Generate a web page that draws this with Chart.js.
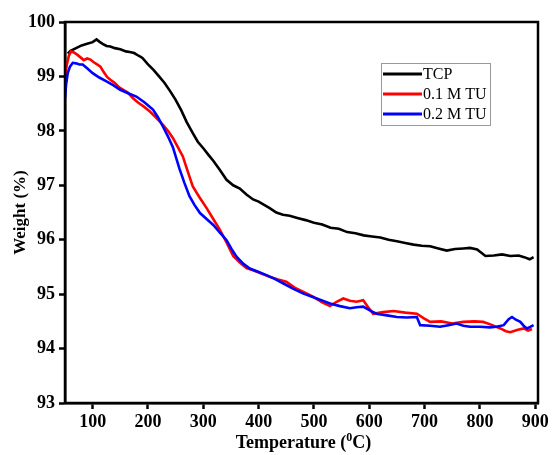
<!DOCTYPE html>
<html>
<head>
<meta charset="utf-8">
<script src="https://cdn.jsdelivr.net/npm/chart.js@4/dist/chart.umd.min.js"></script>
<style>
  html, body { margin: 0; padding: 0; background: #fff; }
  #wrap { width: 554px; height: 455px; }
</style>
</head>
<body>
<div id="wrap"><canvas id="myChart" width="554" height="455"></canvas></div>
<script>
'use strict';

// Values
const tcpTemp = [55, 60, 70, 80, 90, 100, 107, 112, 118, 125, 132, 140, 150, 160, 167, 175, 183, 190, 200, 210,
    220, 230, 240, 250, 260, 270, 281, 290, 300, 310, 318, 330, 342, 354, 366, 378, 390, 400, 410, 420,
    432, 444, 456, 470, 485, 500, 515, 530, 545, 560, 575, 590, 605, 620, 635, 650, 665, 680, 695, 710,
    725, 740, 755, 770, 782, 795, 810, 825, 840, 855, 870, 880, 890, 897];
const tcpWeight = [99.42, 99.47, 99.52, 99.57, 99.60, 99.63, 99.68, 99.64, 99.60, 99.56, 99.55, 99.52, 99.50, 99.46, 99.45, 99.43, 99.38, 99.34, 99.22, 99.12,
    99.00, 98.88, 98.73, 98.57, 98.38, 98.16, 97.96, 97.80, 97.68, 97.55, 97.45, 97.28, 97.10, 97.00, 96.94, 96.83, 96.74, 96.70, 96.64, 96.58,
    96.50, 96.46, 96.44, 96.40, 96.36, 96.31, 96.28, 96.22, 96.20, 96.14, 96.12, 96.08, 96.06, 96.04, 96.00, 95.97, 95.94, 95.91, 95.89, 95.88,
    95.84, 95.80, 95.83, 95.84, 95.85, 95.82, 95.70, 95.71, 95.73, 95.70, 95.71, 95.68, 95.64, 95.68];

const tu01Temp = [50, 53, 57, 61, 66, 72, 78, 84, 90, 96, 102, 108, 114, 120, 126, 132, 140, 148, 156, 164,
    173, 182, 192, 203, 215, 227, 236, 245, 254, 263, 272, 281, 293, 306, 318, 330, 342, 354, 366, 378,
    390, 405, 420, 435, 450, 465, 481, 499, 515, 529, 541, 553, 565, 577, 589, 598, 607, 625, 644, 665,
    686, 698, 710, 730, 750, 770, 790, 806, 820, 837, 847, 855, 867, 879, 887, 894];
const tu01Weight = [98.95, 99.20, 99.38, 99.46, 99.44, 99.40, 99.35, 99.30, 99.33, 99.31, 99.26, 99.22, 99.18, 99.08, 98.99, 98.94, 98.88, 98.80, 98.75, 98.70,
    98.60, 98.52, 98.45, 98.36, 98.24, 98.11, 98.00, 97.87, 97.70, 97.53, 97.25, 96.98, 96.78, 96.58, 96.38, 96.18, 95.95, 95.70, 95.58, 95.48,
    95.44, 95.38, 95.32, 95.27, 95.23, 95.12, 95.04, 94.95, 94.85, 94.78, 94.86, 94.92, 94.88, 94.86, 94.89, 94.76, 94.64, 94.67, 94.69, 94.66,
    94.64, 94.56, 94.49, 94.50, 94.46, 94.49, 94.50, 94.49, 94.44, 94.37, 94.32, 94.30, 94.34, 94.37, 94.33, 94.36];

const tu02Temp = [50, 52, 55, 59, 64, 70, 76, 82, 90, 100, 112, 125, 137, 149, 164, 179, 194, 209, 218, 227,
    236, 245, 257, 266, 275, 284, 294, 306, 318, 330, 342, 351, 360, 372, 384, 399, 414, 429, 444, 462,
    481, 505, 529, 547, 565, 577, 589, 601, 613, 632, 650, 668, 686, 692, 710, 728, 743, 758, 770, 782,
    800, 818, 830, 843, 852, 858, 865, 873, 879, 885, 891, 897];
const tu02Weight = [98.60, 98.85, 99.06, 99.18, 99.25, 99.24, 99.22, 99.22, 99.15, 99.06, 98.98, 98.91, 98.84, 98.76, 98.69, 98.63, 98.52, 98.39, 98.25, 98.08,
    97.90, 97.70, 97.30, 97.04, 96.80, 96.64, 96.49, 96.38, 96.27, 96.13, 95.99, 95.83, 95.69, 95.56, 95.47, 95.41, 95.35, 95.28, 95.20, 95.10,
    95.01, 94.92, 94.83, 94.78, 94.74, 94.76, 94.77, 94.70, 94.64, 94.61, 94.58, 94.57, 94.58, 94.43, 94.42, 94.40, 94.43, 94.46, 94.42, 94.40,
    94.40, 94.39, 94.40, 94.43, 94.54, 94.58, 94.53, 94.49, 94.42, 94.37, 94.40, 94.43];

const seriesNames = ['TCP', '0.1 M TU', '0.2 M TU'];
const seriesColors = ['#000000', '#ff0000', '#0000ff'];
const xTicks = [100, 200, 300, 400, 500, 600, 700, 800, 900];

const serif = '"Liberation Serif", "Times New Roman", serif';

function toPoints(xs, ys) {
    return xs.map((x, i) => ({x: x, y: ys[i]}));
}

// Frame, x axis title with superscript and the boxed legend
const decorations = {
    id: 'decorations',
    afterDraw(chart) {
        const ctx = chart.ctx;
        const a = chart.chartArea;
        ctx.save();

        // box round the plot
        ctx.strokeStyle = '#000';
        ctx.lineWidth = 2.5;
        ctx.strokeRect(a.left, a.top, a.right - a.left, a.bottom - a.top);

        // x title: Temperature (oC)
        const big = 'bold 18px ' + serif;
        const small = 'bold 12px ' + serif;
        ctx.fillStyle = '#000';
        ctx.textBaseline = 'alphabetic';
        ctx.font = big;
        const p1 = 'Temperature (';
        const p3 = 'C)';
        const w1 = ctx.measureText(p1).width;
        const w3 = ctx.measureText(p3).width;
        ctx.font = small;
        const w2 = ctx.measureText('0').width;
        const total = w1 + w2 + w3;
        let x = (a.left + a.right) / 2 - total / 2 + 2;
        const y = 448;
        ctx.font = big;
        ctx.textAlign = 'left';
        ctx.fillText(p1, x, y);
        x += w1;
        ctx.font = small;
        ctx.fillText('0', x, y - 7);
        x += w2;
        ctx.font = big;
        ctx.fillText(p3, x, y);

        // legend
        const lx = 381, ly = 63, lw = 109, lh = 62;
        ctx.strokeStyle = '#999';
        ctx.lineWidth = 1;
        ctx.strokeRect(lx + 0.5, ly + 0.5, lw, lh);
        ctx.font = '16px ' + serif;
        ctx.textBaseline = 'middle';
        seriesNames.forEach((name, i) => {
            const rowY = ly + 11 + i * 20;
            ctx.strokeStyle = seriesColors[i];
            ctx.lineWidth = 3;
            ctx.beginPath();
            ctx.moveTo(lx + 2, rowY);
            ctx.lineTo(lx + 41, rowY);
            ctx.stroke();
            ctx.fillStyle = '#000';
            ctx.fillText(name, lx + 42, rowY + 1);
        });
        ctx.restore();
    }
};

function renderChart() {
    const ctx = document.getElementById('myChart').getContext('2d');
    const data = [
        toPoints(tcpTemp, tcpWeight),
        toPoints(tu01Temp, tu01Weight),
        toPoints(tu02Temp, tu02Weight)
    ];
    new Chart(ctx, {
        type: 'line',
        data: {
            datasets: seriesNames.map((name, i) => ({
                label: name,
                data: data[i],
                borderColor: seriesColors[i],
                backgroundColor: seriesColors[i],
                borderWidth: 2.6,
                pointRadius: 0,
                tension: 0,
                fill: false,
                order: 2 - i
            }))
        },
        options: {
            responsive: false,
            animation: false,
            layout: { padding: { left: 0, right: 16, top: 22, bottom: 0 } },
            plugins: {
                legend: { display: false },
                tooltip: { enabled: false }
            },
            scales: {
                x: {
                    type: 'linear',
                    min: 50,
                    max: 905,
                    afterBuildTicks: axis => { axis.ticks = xTicks.map(v => ({value: v})); },
                    afterFit: scale => { scale.height = 52; },
                    grid: {
                        drawOnChartArea: false,
                        drawTicks: true,
                        tickLength: 6,
                        tickWidth: 2.5,
                        tickColor: '#000'
                    },
                    border: { color: '#000', width: 2.5 },
                    ticks: {
                        color: '#000',
                        padding: 3,
                        maxRotation: 0,
                        font: { family: serif, size: 18, weight: 'bold' }
                    }
                },
                y: {
                    min: 93,
                    max: 100,
                    afterFit: scale => { scale.width = 65; },
                    grid: {
                        drawOnChartArea: false,
                        drawTicks: true,
                        tickLength: 6,
                        tickWidth: 2.5,
                        tickColor: '#000'
                    },
                    border: { color: '#000', width: 2.5 },
                    ticks: {
                        stepSize: 1,
                        color: '#000',
                        padding: 4,
                        font: { family: serif, size: 18, weight: 'bold' }
                    },
                    title: {
                        display: true,
                        text: 'Weight (%)',
                        color: '#000',
                        padding: { top: 10, bottom: 0 },
                        font: { family: serif, size: 17, weight: 'bold' }
                    }
                }
            }
        },
        plugins: [decorations]
    });
}

renderChart();
</script>
</body>
</html>
